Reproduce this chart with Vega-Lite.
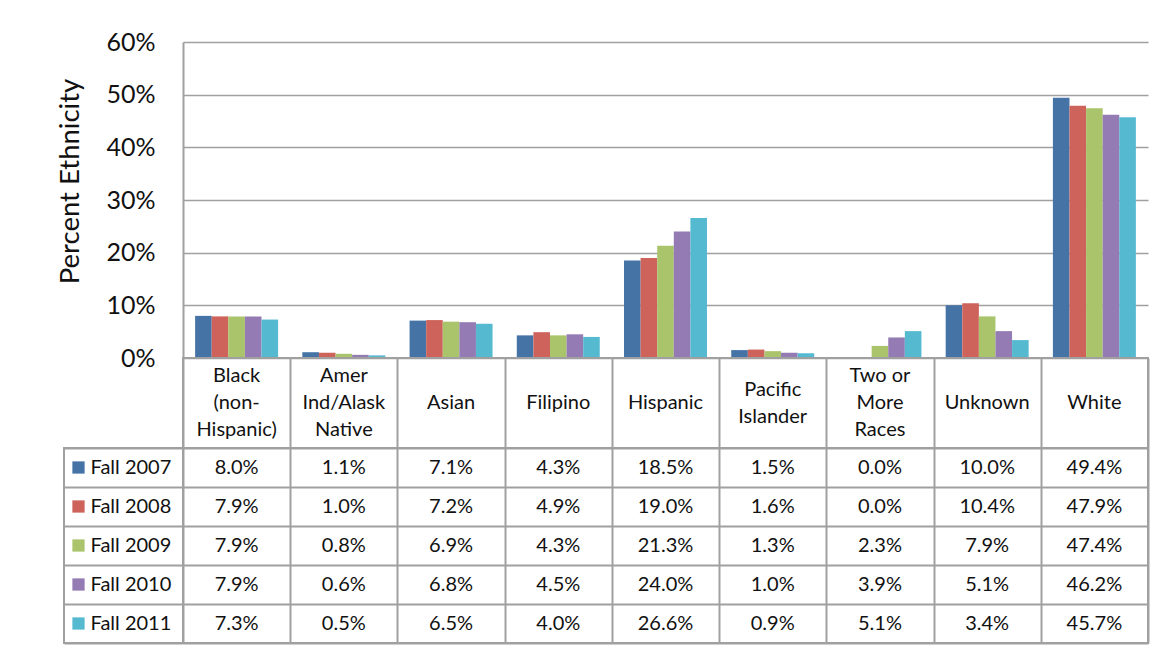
{
  "$schema": "https://vega.github.io/schema/vega-lite/v6.json",
  "autosize": {"type": "pad"},
  "padding": {"left": 56, "top": 30, "right": 10, "bottom": 5},
  "background": "white",
  "datasets": {
    "shares": [
      {"category": "Black (non-Hispanic)", "term": "Fall 2007", "pct": 0.080},
      {"category": "Amer Ind/Alask Native", "term": "Fall 2007", "pct": 0.011},
      {"category": "Asian", "term": "Fall 2007", "pct": 0.071},
      {"category": "Filipino", "term": "Fall 2007", "pct": 0.043},
      {"category": "Hispanic", "term": "Fall 2007", "pct": 0.185},
      {"category": "Pacific Islander", "term": "Fall 2007", "pct": 0.015},
      {"category": "Two or More Races", "term": "Fall 2007", "pct": 0.000},
      {"category": "Unknown", "term": "Fall 2007", "pct": 0.100},
      {"category": "White", "term": "Fall 2007", "pct": 0.494},
      {"category": "Black (non-Hispanic)", "term": "Fall 2008", "pct": 0.079},
      {"category": "Amer Ind/Alask Native", "term": "Fall 2008", "pct": 0.010},
      {"category": "Asian", "term": "Fall 2008", "pct": 0.072},
      {"category": "Filipino", "term": "Fall 2008", "pct": 0.049},
      {"category": "Hispanic", "term": "Fall 2008", "pct": 0.190},
      {"category": "Pacific Islander", "term": "Fall 2008", "pct": 0.016},
      {"category": "Two or More Races", "term": "Fall 2008", "pct": 0.000},
      {"category": "Unknown", "term": "Fall 2008", "pct": 0.104},
      {"category": "White", "term": "Fall 2008", "pct": 0.479},
      {"category": "Black (non-Hispanic)", "term": "Fall 2009", "pct": 0.079},
      {"category": "Amer Ind/Alask Native", "term": "Fall 2009", "pct": 0.008},
      {"category": "Asian", "term": "Fall 2009", "pct": 0.069},
      {"category": "Filipino", "term": "Fall 2009", "pct": 0.043},
      {"category": "Hispanic", "term": "Fall 2009", "pct": 0.213},
      {"category": "Pacific Islander", "term": "Fall 2009", "pct": 0.013},
      {"category": "Two or More Races", "term": "Fall 2009", "pct": 0.023},
      {"category": "Unknown", "term": "Fall 2009", "pct": 0.079},
      {"category": "White", "term": "Fall 2009", "pct": 0.474},
      {"category": "Black (non-Hispanic)", "term": "Fall 2010", "pct": 0.079},
      {"category": "Amer Ind/Alask Native", "term": "Fall 2010", "pct": 0.006},
      {"category": "Asian", "term": "Fall 2010", "pct": 0.068},
      {"category": "Filipino", "term": "Fall 2010", "pct": 0.045},
      {"category": "Hispanic", "term": "Fall 2010", "pct": 0.240},
      {"category": "Pacific Islander", "term": "Fall 2010", "pct": 0.010},
      {"category": "Two or More Races", "term": "Fall 2010", "pct": 0.039},
      {"category": "Unknown", "term": "Fall 2010", "pct": 0.051},
      {"category": "White", "term": "Fall 2010", "pct": 0.462},
      {"category": "Black (non-Hispanic)", "term": "Fall 2011", "pct": 0.073},
      {"category": "Amer Ind/Alask Native", "term": "Fall 2011", "pct": 0.005},
      {"category": "Asian", "term": "Fall 2011", "pct": 0.065},
      {"category": "Filipino", "term": "Fall 2011", "pct": 0.040},
      {"category": "Hispanic", "term": "Fall 2011", "pct": 0.266},
      {"category": "Pacific Islander", "term": "Fall 2011", "pct": 0.009},
      {"category": "Two or More Races", "term": "Fall 2011", "pct": 0.051},
      {"category": "Unknown", "term": "Fall 2011", "pct": 0.034},
      {"category": "White", "term": "Fall 2011", "pct": 0.457}
    ],
    "categories": [
      {"category": "Black (non-Hispanic)", "label": "Black|(non-|Hispanic)"},
      {"category": "Amer Ind/Alask Native", "label": "Amer|Ind/Alask|Native"},
      {"category": "Asian", "label": "Asian"},
      {"category": "Filipino", "label": "Filipino"},
      {"category": "Hispanic", "label": "Hispanic"},
      {"category": "Pacific Islander", "label": "Pacific|Islander"},
      {"category": "Two or More Races", "label": "Two or|More|Races"},
      {"category": "Unknown", "label": "Unknown"},
      {"category": "White", "label": "White"}
    ],
    "terms": [
      {"term": "Fall 2007"},
      {"term": "Fall 2008"},
      {"term": "Fall 2009"},
      {"term": "Fall 2010"},
      {"term": "Fall 2011"}
    ]
  },
  "columns": 2,
  "spacing": 0,
  "bounds": "flush",
  "concat": [
    {
      "width": 119,
      "height": 316,
      "data": {"values": []},
      "mark": "point",
      "encoding": {}
    },
    {
      "width": 965,
      "height": 316,
      "data": {"name": "shares"},
      "mark": {"type": "bar"},
      "encoding": {
        "x": {
          "field": "category",
          "type": "nominal",
          "sort": null,
          "scale": {"paddingInner": 0, "paddingOuter": 0},
          "axis": null
        },
        "xOffset": {
          "field": "term",
          "type": "nominal",
          "sort": null,
          "scale": {"paddingInner": 0, "paddingOuter": 0.73}
        },
        "y": {
          "field": "pct",
          "type": "quantitative",
          "scale": {"domain": [0, 0.6]},
          "axis": {
            "title": "Percent Ethnicity",
            "values": [0, 0.1, 0.2, 0.3, 0.4, 0.5, 0.6],
            "format": ".0%",
            "grid": true,
            "gridColor": "#a0a0a0",
            "gridWidth": 1.5,
            "domainColor": "#a0a0a0",
            "domainWidth": 2,
            "ticks": false,
            "labelPadding": 28,
            "labelFontSize": 25,
            "titleFontSize": 27.5,
            "titleFontWeight": "normal",
            "titlePadding": 21,
            "titleY": 139
          }
        },
        "color": {
          "field": "term",
          "type": "nominal",
          "sort": null,
          "scale": {"range": ["#4673A6", "#CD635B", "#AAC46B", "#947BB3", "#55BAD0"]},
          "legend": null
        }
      }
    },
    {
      "width": 119,
      "height": 90,
      "data": {"values": []},
      "mark": "point",
      "encoding": {}
    },
    {
      "width": 965,
      "height": 90,
      "data": {"name": "categories"},
      "mark": {
        "type": "text",
        "lineBreak": "|",
        "lineHeight": 27,
        "fontSize": 20,
        "baseline": "middle",
        "dy": {"expr": "-13.5 * (length(split(datum.label, '|')) - 1)"}
      },
      "encoding": {
        "x": {
          "field": "category",
          "type": "nominal",
          "sort": null,
          "scale": {"paddingInner": 0, "paddingOuter": 0},
          "axis": {"grid": true, "tickBand": "extent", "gridColor": "#a0a0a0", "gridWidth": 2, "labels": false, "ticks": false, "domain": false, "title": null}
        },
        "text": {"field": "label"}
      },
      "view": {"stroke": "#a0a0a0", "strokeWidth": 2}
    },
    {
      "width": 119,
      "height": 195,
      "data": {"name": "terms"},
      "encoding": {
        "y": {
          "field": "term",
          "type": "nominal",
          "sort": null,
          "scale": {"paddingInner": 0, "paddingOuter": 0},
          "axis": {"grid": true, "tickBand": "extent", "gridColor": "#a0a0a0", "gridWidth": 2, "labels": false, "ticks": false, "domain": false, "title": null}
        }
      },
      "layer": [
        {
          "mark": {"type": "square", "size": 150, "opacity": 1, "xOffset": -45},
          "encoding": {
            "color": {
              "field": "term",
              "type": "nominal",
              "sort": null,
              "scale": {"range": ["#4673A6", "#CD635B", "#AAC46B", "#947BB3", "#55BAD0"]},
              "legend": null
            }
          }
        },
        {
          "mark": {"type": "text", "align": "left", "dx": -33, "fontSize": 20, "baseline": "middle"},
          "encoding": {"text": {"field": "term"}}
        }
      ],
      "view": {"stroke": "#a0a0a0", "strokeWidth": 2}
    },
    {
      "width": 965,
      "height": 195,
      "data": {"name": "shares"},
      "mark": {"type": "text", "fontSize": 20, "baseline": "middle"},
      "encoding": {
        "x": {
          "field": "category",
          "type": "nominal",
          "sort": null,
          "scale": {"paddingInner": 0, "paddingOuter": 0},
          "axis": {"grid": true, "tickBand": "extent", "gridColor": "#a0a0a0", "gridWidth": 2, "labels": false, "ticks": false, "domain": false, "title": null}
        },
        "y": {
          "field": "term",
          "type": "nominal",
          "sort": null,
          "scale": {"paddingInner": 0, "paddingOuter": 0},
          "axis": {"grid": true, "tickBand": "extent", "gridColor": "#a0a0a0", "gridWidth": 2, "labels": false, "ticks": false, "domain": false, "title": null}
        },
        "text": {"field": "pct", "type": "quantitative", "format": ".1%"}
      },
      "view": {"stroke": "#a0a0a0", "strokeWidth": 2}
    }
  ],
  "resolve": {"scale": {"x": "independent", "y": "independent"}},
  "config": {
    "font": "Lato",
    "view": {"stroke": null},
    "axis": {"labelFont": "Lato", "titleFont": "Lato", "labelColor": "#111111", "titleColor": "#111111"},
    "text": {"font": "Lato", "color": "#111111"}
  }
}
